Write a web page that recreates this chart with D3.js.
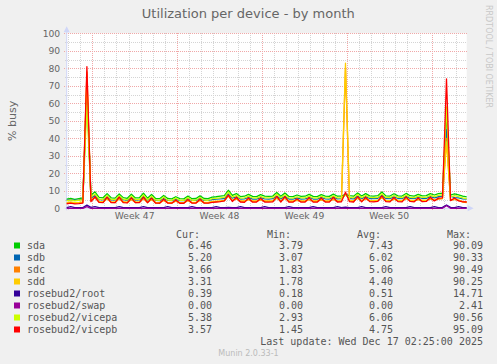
<!DOCTYPE html>
<html>
<head>
<meta charset="utf-8">
<script src="https://cdn.jsdelivr.net/npm/d3@7"></script>
<style>
  body { margin: 0; background: #f0f0f0; }
  svg { display: block; }
</style>
</head>
<body>
<div id="chart"></div>
<script>
// Time range: 33 days ending at last update, one sample every 8 hours
var startTime = Date.UTC(2025, 10, 14, 2, 25);
var endTime = Date.UTC(2025, 11, 17, 2, 25);

var weekLabels = ['Week 47', 'Week 48', 'Week 49', 'Week 50'];
var yTicks = [0, 10, 20, 30, 40, 50, 60, 70, 80, 90, 100];

var seriesNames = ['sda', 'sdb', 'sdc', 'sdd', 'rosebud2/root', 'rosebud2/swap', 'rosebud2/vicepa', 'rosebud2/vicepb'];
var palette = ['#00cc00', '#0066b3', '#ff8000', '#ffcc00', '#330099', '#990099', '#ccff00', '#ff0000'];

var curVals = [6.46, 5.20, 3.66, 3.31, 0.39, 0.00, 5.38, 3.57];
var minVals = [3.79, 3.07, 1.83, 1.78, 0.18, 0.00, 2.93, 1.45];
var avgVals = [7.43, 6.02, 5.06, 4.40, 0.51, 0.00, 6.06, 4.75];
var maxVals = [90.09, 90.33, 90.49, 90.25, 14.71, 2.41, 90.56, 95.09];

var sda = [
  5.3, 5.7, 5.1, 5.5, 5.9, 70, 7.4, 9.4, 6.3, 6.0,
  8.4, 6.0, 5.8, 8.2, 6.1, 5.7, 8.0, 5.9, 6.0, 8.6,
  5.8, 7.9, 5.6, 5.5, 7.3, 5.6, 5.4, 6.6, 5.5, 5.4,
  7.0, 5.5, 5.6, 7.1, 5.6, 5.5, 6.4, 6.6, 6.9, 7.2,
  10.3, 7.4, 8.4, 6.7, 6.9, 8.0, 6.8, 6.7, 7.8, 6.9,
  6.8, 7.0, 9.0, 6.9, 8.8, 6.8, 6.7, 7.6, 6.8, 6.9,
  8.0, 6.8, 6.7, 7.8, 6.9, 6.8, 8.1, 6.9, 7.0, 8.0,
  7.2, 6.9, 8.8, 7.0, 8.4, 7.1, 7.0, 7.2, 9.3, 7.1,
  7.0, 8.3, 7.1, 7.0, 8.5, 7.2, 7.0, 8.0, 7.1, 7.2,
  8.4, 7.6, 8.4, 8.6, 55, 7.6, 8.3, 7.7, 6.9, 6.5
];
var sdb = [
  4.6, 5.0, 4.5, 4.8, 5.2, 68, 6.0, 7.2, 5.0, 4.8,
  6.4, 4.8, 4.7, 6.4, 4.9, 4.6, 6.1, 4.7, 4.8, 6.6,
  4.7, 6.0, 4.5, 4.4, 5.6, 4.5, 4.4, 5.2, 4.4, 4.4,
  5.5, 4.5, 4.5, 5.6, 4.5, 4.5, 5.0, 5.2, 5.4, 5.6,
  8.2, 5.8, 6.6, 5.3, 5.4, 6.2, 5.3, 5.3, 6.1, 5.4,
  5.3, 5.5, 7.0, 5.4, 6.9, 5.3, 5.3, 5.9, 5.3, 5.4,
  6.3, 5.3, 5.3, 6.2, 5.4, 5.3, 6.4, 5.4, 5.5, 8.0,
  5.6, 5.4, 7.0, 5.5, 6.7, 5.6, 5.5, 5.7, 7.4, 5.6,
  5.5, 6.5, 5.6, 5.5, 6.8, 5.7, 5.5, 6.3, 5.6, 5.7,
  6.7, 6.0, 6.6, 6.9, 45, 6.9, 6.1, 5.9, 5.4, 5.2
];
var sdc = [
  3.0, 3.3, 2.9, 3.1, 3.4, 78, 4.3, 6.0, 3.6, 3.4,
  5.4, 3.4, 3.3, 5.4, 3.5, 3.2, 5.1, 3.3, 3.4, 5.5,
  3.3, 5.0, 3.1, 3.0, 4.5, 3.1, 3.0, 4.1, 3.0, 3.0,
  4.4, 3.1, 3.1, 4.5, 3.1, 3.1, 3.6, 3.8, 4.0, 4.2,
  7.0, 4.3, 5.4, 3.9, 4.0, 4.9, 3.9, 3.9, 4.8, 4.0,
  3.9, 4.1, 5.8, 4.0, 5.7, 3.9, 3.9, 4.5, 3.9, 4.0,
  5.0, 3.9, 3.9, 4.8, 4.0, 3.9, 5.1, 4.0, 4.1, 80,
  4.2, 4.0, 5.7, 4.1, 5.4, 4.2, 4.1, 4.3, 6.0, 4.2,
  4.1, 5.2, 4.2, 4.1, 5.5, 4.3, 4.1, 4.9, 4.2, 4.3,
  5.3, 4.6, 5.2, 5.5, 40, 4.5, 5.1, 4.6, 3.9, 3.7
];
var sdd = [
  3.3, 3.6, 3.2, 3.4, 3.7, 74, 4.6, 6.2, 3.9, 3.7,
  5.6, 3.7, 3.6, 5.6, 3.8, 3.5, 5.3, 3.6, 3.7, 5.7,
  3.6, 5.2, 3.4, 3.3, 4.7, 3.4, 3.3, 4.3, 3.3, 3.3,
  4.6, 3.4, 3.4, 4.7, 3.4, 3.4, 3.9, 4.1, 4.3, 4.5,
  7.2, 4.6, 5.6, 4.2, 4.3, 5.1, 4.2, 4.2, 5.0, 4.3,
  4.2, 4.4, 6.0, 4.3, 5.9, 4.2, 4.2, 4.8, 4.2, 4.3,
  5.2, 4.2, 4.2, 5.0, 4.3, 4.2, 5.3, 4.3, 4.4, 83,
  4.5, 4.3, 5.9, 4.4, 5.6, 4.5, 4.4, 4.6, 6.2, 4.5,
  4.4, 5.4, 4.5, 4.4, 5.7, 4.6, 4.4, 5.1, 4.5, 4.6,
  5.5, 4.9, 5.4, 5.7, 38, 4.8, 5.3, 4.8, 3.6, 3.3
];
var root = [
  0.4, 1.0, 0.4, 0.4, 0.4, 1.8, 0.5, 1.0, 0.4, 0.4,
  0.4, 0.4, 0.4, 1.0, 0.4, 0.4, 0.4, 0.4, 0.4, 1.0,
  0.4, 0.4, 0.4, 0.4, 0.4, 1.0, 0.4, 0.4, 0.4, 0.4,
  0.4, 1.0, 0.4, 0.4, 0.4, 0.4, 0.4, 1.0, 0.4, 0.4,
  0.5, 0.4, 0.4, 1.0, 0.4, 0.4, 0.4, 0.4, 0.4, 1.0,
  0.4, 0.4, 0.4, 0.4, 0.4, 1.0, 0.4, 0.4, 0.4, 0.4,
  0.4, 1.0, 0.4, 0.4, 0.4, 0.4, 0.4, 1.0, 0.4, 0.6,
  0.4, 0.4, 0.4, 1.0, 0.4, 0.4, 0.4, 0.4, 0.4, 1.0,
  0.4, 0.4, 0.4, 0.4, 0.4, 1.0, 0.4, 0.4, 0.4, 0.4,
  0.4, 1.0, 0.4, 0.5, 1.9, 0.5, 0.4, 1.0, 0.4, 0.4
];
var swap = [
  0, 0, 0, 0, 0, 1.0, 0, 0, 0, 0,
  0, 0, 0, 0, 0, 0, 0, 0, 0, 0,
  0, 0, 0, 0, 0, 0, 0, 0, 0, 0,
  0, 0, 0, 0, 0, 0, 0, 0, 0, 0,
  0, 0, 0, 0, 0, 0, 0, 0, 0, 0,
  0, 0, 0, 0, 0, 0, 0, 0, 0, 0,
  0, 0, 0, 0, 0, 0, 0, 0, 0, 0,
  0, 0, 0, 0, 0, 0, 0, 0, 0, 0,
  0, 0, 0, 0, 0, 0, 0, 0, 0, 0,
  0, 0, 0, 0, 1.5, 0, 0, 0, 0, 0
];
var vicepa = [
  4.4, 4.8, 4.2, 4.6, 5.0, 59, 6.5, 8.2, 5.3, 5.1,
  7.4, 5.1, 4.9, 7.2, 5.2, 4.8, 7.0, 5.0, 5.1, 7.6,
  4.9, 6.9, 4.7, 4.6, 6.4, 4.7, 4.5, 5.8, 4.6, 4.5,
  6.1, 4.6, 4.7, 6.2, 4.7, 4.6, 5.5, 5.7, 6.0, 6.3,
  9.3, 6.4, 7.4, 5.8, 6.0, 7.0, 5.9, 5.8, 6.8, 6.0,
  5.9, 6.1, 8.0, 6.0, 7.8, 5.9, 5.8, 6.6, 5.9, 6.0,
  7.0, 5.9, 5.8, 6.9, 6.0, 5.9, 7.1, 6.0, 6.1, 7.5,
  6.3, 6.0, 7.9, 6.1, 7.4, 6.2, 6.1, 6.3, 8.3, 6.2,
  6.1, 7.3, 6.2, 6.1, 7.5, 6.3, 6.1, 7.0, 6.2, 6.3,
  7.4, 6.7, 7.4, 7.6, 58, 6.6, 7.3, 6.7, 5.9, 5.4
];
var vicepb = [
  2.6, 2.9, 2.5, 2.7, 3.0, 81, 3.8, 6.6, 3.4, 3.3,
  6.4, 3.3, 3.2, 6.4, 3.3, 3.1, 6.0, 3.2, 3.3, 6.4,
  3.2, 5.8, 3.0, 2.9, 5.2, 3.0, 2.9, 4.8, 2.9, 2.9,
  5.0, 3.0, 3.0, 5.2, 3.0, 3.0, 3.4, 3.6, 3.8, 4.2,
  7.5, 3.9, 6.3, 3.6, 3.4, 5.9, 3.5, 3.6, 5.7, 3.6,
  3.5, 3.7, 6.8, 3.6, 6.7, 3.5, 3.5, 5.4, 3.5, 3.6,
  6.1, 3.5, 3.5, 5.9, 3.6, 3.5, 6.3, 3.6, 3.7, 9.2,
  3.8, 3.6, 6.7, 3.7, 6.3, 3.8, 3.7, 3.9, 7.1, 3.8,
  3.7, 6.2, 3.8, 3.7, 6.5, 3.9, 3.7, 5.9, 3.8, 3.9,
  6.3, 4.2, 5.8, 6.0, 74, 4.4, 5.9, 4.2, 3.7, 3.6
];

var allSeries = [sda, sdb, sdc, sdd, root, swap, vicepa, vicepb];

var times = sda.map(function (d, i) { return new Date(startTime + i * 8 * 3600 * 1000); });

// Canvas and plot area
var W = 497, H = 364;
var plot = { left: 66.7, right: 466.7, top: 33.3, bottom: 208.3 };

var svg = d3.select('#chart').append('svg')
    .attr('width', W)
    .attr('height', H)
    .style('font-family', '"DejaVu Sans", sans-serif');

svg.append('rect').attr('width', W).attr('height', H).attr('fill', '#f0f0f0');
svg.append('rect')
    .attr('x', plot.left).attr('y', plot.top)
    .attr('width', plot.right - plot.left).attr('height', plot.bottom - plot.top)
    .attr('fill', '#ffffff');

// Scales
var x = d3.scaleUtc()
    .domain([new Date(startTime), new Date(endTime)])
    .range([plot.left, plot.right]);

var y = d3.scaleLinear()
    .domain([0, 100])
    .range([plot.bottom, plot.top]);

// Grid: one line per day (local midnight is 05:00 UTC), majors on Sundays
var days = d3.utcHour.range(new Date(startTime), new Date(endTime))
    .filter(function (d) { return d.getUTCHours() === 5; });
var weeks = days.filter(function (d) { return d.getUTCDay() === 0; });

var grid = svg.append('g').attr('shape-rendering', 'crispEdges');

grid.selectAll('.hminor')
    .data(d3.range(5, 100, 10))
    .enter().append('line')
    .attr('x1', plot.left - 2).attr('x2', plot.right)
    .attr('y1', function (d) { return Math.round(y(d)) + 0.5; })
    .attr('y2', function (d) { return Math.round(y(d)) + 0.5; })
    .attr('stroke', '#d4d4d4').attr('stroke-dasharray', '1,1');

grid.selectAll('.vminor')
    .data(days.filter(function (d) { return d.getUTCDay() !== 0; }))
    .enter().append('line')
    .attr('x1', function (d) { return Math.round(x(d)) + 0.5; })
    .attr('x2', function (d) { return Math.round(x(d)) + 0.5; })
    .attr('y1', plot.top).attr('y2', plot.bottom + 2)
    .attr('stroke', '#d4d4d4').attr('stroke-dasharray', '1,1');

grid.selectAll('.hmajor')
    .data(yTicks.slice(1))
    .enter().append('line')
    .attr('x1', plot.left - 3).attr('x2', plot.right)
    .attr('y1', function (d) { return Math.round(y(d)) + 0.5; })
    .attr('y2', function (d) { return Math.round(y(d)) + 0.5; })
    .attr('stroke', '#f0a8a8').attr('stroke-dasharray', '1,1');

grid.selectAll('.vmajor')
    .data(weeks)
    .enter().append('line')
    .attr('x1', function (d) { return Math.round(x(d)) + 0.5; })
    .attr('x2', function (d) { return Math.round(x(d)) + 0.5; })
    .attr('y1', plot.top).attr('y2', plot.bottom + 3)
    .attr('stroke', '#f0a8a8').attr('stroke-dasharray', '1,1');

// Axes (Munin style, light blue with arrows)
var axisColor = '#cfd6f8';
svg.append('line')
    .attr('x1', plot.left).attr('x2', plot.left)
    .attr('y1', plot.bottom + 2).attr('y2', plot.top - 2)
    .attr('stroke', axisColor);
svg.append('path')
    .attr('d', 'M' + (plot.left - 3) + ',' + (plot.top - 1) + 'L' + plot.left + ',' + (plot.top - 7) + 'L' + (plot.left + 3) + ',' + (plot.top - 1) + 'Z')
    .attr('fill', axisColor);
svg.append('line')
    .attr('x1', plot.left - 2).attr('x2', plot.right + 2)
    .attr('y1', plot.bottom).attr('y2', plot.bottom)
    .attr('stroke', axisColor);
svg.append('path')
    .attr('d', 'M' + (plot.right + 1) + ',' + (plot.bottom - 3) + 'L' + (plot.right + 7) + ',' + plot.bottom + 'L' + (plot.right + 1) + ',' + (plot.bottom + 3) + 'Z')
    .attr('fill', axisColor);

// Tick labels
svg.selectAll('.ylab')
    .data(yTicks)
    .enter().append('text')
    .attr('x', plot.left - 6.5)
    .attr('y', function (d) { return y(d) + 3.4; })
    .attr('text-anchor', 'end')
    .attr('font-size', '9.2px')
    .attr('fill', '#666')
    .text(function (d) { return d; });

svg.selectAll('.xlab')
    .data(weekLabels)
    .enter().append('text')
    .attr('x', function (d, i) { return x(new Date(+weeks[i] + 3.5 * 86400000)); })
    .attr('y', 219)
    .attr('text-anchor', 'middle')
    .attr('font-size', '9.2px')
    .attr('fill', '#666')
    .text(function (d) { return d; });

// Series lines
var line = d3.line()
    .x(function (d, i) { return x(times[i]); })
    .y(function (d) { return y(d); });

svg.append('g').selectAll('path')
    .data(allSeries)
    .enter().append('path')
    .attr('d', line)
    .attr('fill', 'none')
    .attr('stroke', function (d, i) { return palette[i]; })
    .attr('stroke-width', 1.3)
    .attr('stroke-linejoin', 'round');

// Titles
svg.append('text')
    .attr('x', 248.3).attr('y', 17.5)
    .attr('text-anchor', 'middle')
    .attr('font-size', '13px')
    .attr('fill', '#666')
    .text('Utilization per device - by month');

svg.append('text')
    .attr('transform', 'translate(15.5,' + ((plot.top + plot.bottom) / 2) + ') rotate(-90)')
    .attr('text-anchor', 'middle')
    .attr('font-size', '11px')
    .attr('fill', '#666')
    .text('% busy');

svg.append('text')
    .attr('transform', 'translate(485.5,5) rotate(90)')
    .attr('font-size', '8px')
    .attr('fill', '#c8c8c8')
    .text('RRDTOOL / TOBI OETIKER');

// Legend
var legend = svg.append('g')
    .style('font-family', '"DejaVu Sans Mono", monospace')
    .attr('font-size', '10px')
    .attr('fill', '#555');

var colRight = [212, 303, 393, 483];
var headers = ['Cur:', 'Min:', 'Avg:', 'Max:'];
headers.forEach(function (h, j) {
    legend.append('text')
        .attr('x', colRight[j] - 12).attr('y', 237.5)
        .attr('text-anchor', 'end')
        .text(h);
});

var rows = legend.selectAll('.row')
    .data(seriesNames)
    .enter().append('g')
    .attr('transform', function (d, i) { return 'translate(0,' + (249 + i * 12) + ')'; });

rows.append('rect')
    .attr('x', 14).attr('y', -6.5)
    .attr('width', 6).attr('height', 6)
    .attr('fill', function (d, i) { return palette[i]; });

rows.append('text')
    .attr('x', 27)
    .text(function (d) { return d; });

[curVals, minVals, avgVals, maxVals].forEach(function (vals, j) {
    rows.append('text')
        .attr('x', colRight[j])
        .attr('text-anchor', 'end')
        .text(function (d, i) { return vals[i].toFixed(2); });
});

legend.append('text')
    .attr('x', 483).attr('y', 344.5)
    .attr('text-anchor', 'end')
    .text('Last update: Wed Dec 17 02:25:00 2025');

svg.append('text')
    .attr('x', 248.5).attr('y', 356)
    .attr('text-anchor', 'middle')
    .attr('font-size', '8px')
    .attr('fill', '#bbb')
    .text('Munin 2.0.33-1');
</script>
</body>
</html>
